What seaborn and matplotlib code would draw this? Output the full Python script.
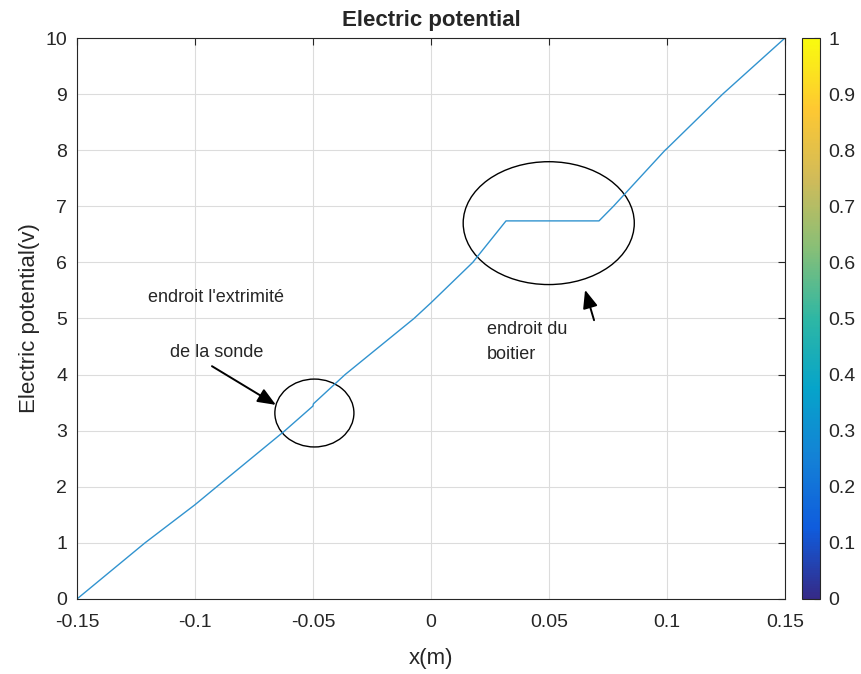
import numpy as np
import pandas as pd
import seaborn as sns
import matplotlib
matplotlib.use("Agg")
import matplotlib.pyplot as plt
from matplotlib.colors import LinearSegmentedColormap
from matplotlib.patches import Ellipse
from matplotlib.cm import ScalarMappable
from matplotlib.colors import Normalize

# Potential profile along the x axis (m -> V)
x_m = [-0.15, -0.1212, -0.1, -0.0908, -0.0619, -0.0500, -0.0498, -0.0364,
       -0.0072, 0.0, 0.0177, 0.0318, 0.0712, 0.0773, 0.0992, 0.1, 0.1236, 0.15]
v_volt = [0.0, 1.0, 1.68, 2.0, 3.0, 3.44, 3.48, 4.0,
          5.0, 5.28, 6.0, 6.74, 6.74, 7.0, 8.0, 8.03, 9.0, 10.0]

x_ticks = [-0.15, -0.1, -0.05, 0, 0.05, 0.1, 0.15]
x_tick_labels = ["-0.15", "-0.1", "-0.05", "0", "0.05", "0.1", "0.15"]
y_ticks = list(range(0, 11))
cbar_ticks = [0, 0.1, 0.2, 0.3, 0.4, 0.5, 0.6, 0.7, 0.8, 0.9, 1]
cbar_tick_labels = ["0", "0.1", "0.2", "0.3", "0.4", "0.5", "0.6", "0.7", "0.8", "0.9", "1"]

sns.set_style("white")
plt.rcParams["font.family"] = ["Liberation Sans", "DejaVu Sans"]

parula = LinearSegmentedColormap.from_list(
    "parula",
    ["#352a87", "#0f5cdd", "#1481d6", "#06a4ca", "#2eb7a4",
     "#87bf77", "#d1bb59", "#fec832", "#f9fb0e"])

fig = plt.figure(figsize=(8.61, 6.74), dpi=100)
ax = fig.add_axes([0.0894, 0.1113, 0.8223, 0.8323])
cax = fig.add_axes([0.9315, 0.1113, 0.0209, 0.8323])

df = pd.DataFrame({"x": x_m, "v": v_volt})
sns.lineplot(data=df, x="x", y="v", ax=ax, color="#3193cf", linewidth=1.0,
             sort=False, estimator=None)

ax.set_xlim(-0.15, 0.15)
ax.set_ylim(0, 10)
ax.set_xticks(x_ticks)
ax.set_xticklabels(x_tick_labels)
ax.set_yticks(y_ticks)
ax.grid(True, color="#dcdcdc", linewidth=0.8)
ax.set_axisbelow(True)
for s in ax.spines.values():
    s.set_color("#262626")
    s.set_linewidth(0.8)
ax.tick_params(direction="in", length=5, width=0.8, top=True, right=True,
               labelsize=14, colors="#262626")
ax.tick_params(axis="x", pad=11)
ax.tick_params(axis="y", pad=7)
ax.set_title("Electric potential", fontsize=16, fontweight="bold", pad=9)
ax.set_xlabel("x(m)", fontsize=16, color="#262626", labelpad=12)
ax.set_ylabel("Electric potential(v)", fontsize=16, color="#262626", labelpad=4)

# Highlight ellipses
ax.add_patch(Ellipse((0.0499, 6.70), 0.0725, 2.19, fill=False,
                     edgecolor="black", linewidth=1.0))
ax.add_patch(Ellipse((-0.0494, 3.315), 0.0335, 1.21, fill=False,
                     edgecolor="black", linewidth=1.0))

arrow = dict(arrowstyle="-|>,head_length=1.1,head_width=0.45",
             color="black", lw=1.4, shrinkA=0, shrinkB=0)
ax.annotate("", xy=(-0.0657, 3.46), xytext=(-0.0928, 4.15), arrowprops=arrow)
ax.annotate("", xy=(0.0653, 5.51), xytext=(0.0691, 4.97), arrowprops=arrow)

ax.text(-0.1199, 5.38, "endroit l'extrimité", fontsize=13, va="center", ha="left")
ax.text(-0.1106, 4.40, "de la sonde", fontsize=13, va="center", ha="left")
ax.text(0.0237, 4.80, "endroit du", fontsize=13, va="center", ha="left")
ax.text(0.0237, 4.35, "boitier", fontsize=13, va="center", ha="left")

# Colorbar
sm = ScalarMappable(norm=Normalize(0, 1), cmap=parula)
cb = fig.colorbar(sm, cax=cax, ticks=cbar_ticks)
cb.ax.set_yticklabels(cbar_tick_labels)
cb.outline.set_edgecolor("#262626")
cb.outline.set_linewidth(0.8)
cax.tick_params(direction="in", length=4, width=0.8, labelsize=14,
                colors="#262626", pad=6)

fig.savefig("out.png", dpi=100)
